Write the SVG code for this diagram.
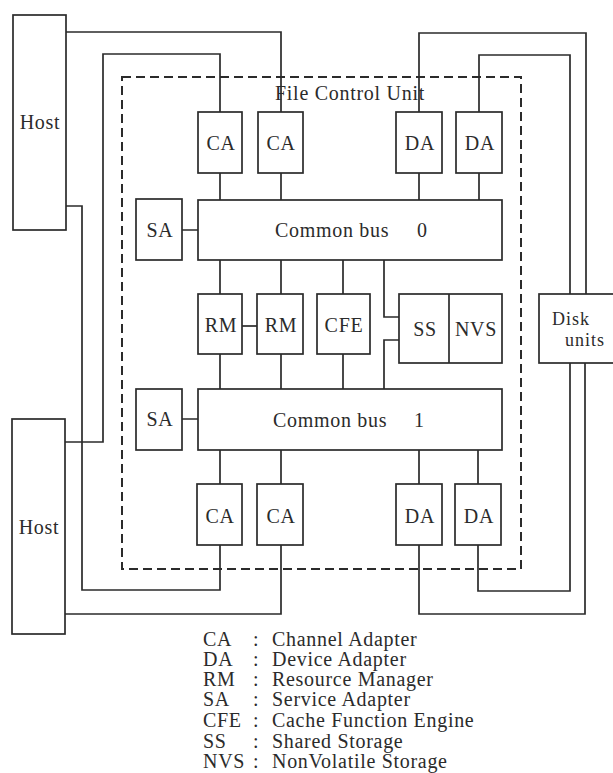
<svg xmlns="http://www.w3.org/2000/svg" width="613" height="773" viewBox="0 0 613 773">
<style>
  .box { fill: #ffffff; stroke: #2b2b2b; stroke-width: 1.7; }
  .ln { fill: none; stroke: #2b2b2b; stroke-width: 1.7; }
  .dash { fill: none; stroke: #2b2b2b; stroke-width: 2; stroke-dasharray: 9 5; }
  text { font-family: "Liberation Serif", "Times New Roman", serif; font-size: 20px; fill: #2b2b2b; letter-spacing: 0.7px; }
  .c { text-anchor: middle; }
  .sm { font-size: 18px; letter-spacing: 1px; }
</style>
<rect width="613" height="773" fill="#ffffff"/>

<g id="fcu">
  <rect class="dash" x="122" y="77" width="399" height="492"/>
  <text x="275" y="100" textLength="150" lengthAdjust="spacing">File Control Unit</text>
</g>

<g id="connectors">
  <path class="ln" d="M66,32 H281 V112"/>
  <path class="ln" d="M65,442 H103 V54 H220 V112"/>
  <path class="ln" d="M66,206 H82 V590 H220 V545"/>
  <path class="ln" d="M65,614 H281 V545"/>
  <path class="ln" d="M419,112 V33 H586 V294"/>
  <path class="ln" d="M479,112 V55 H570 V294"/>
  <path class="ln" d="M419,545 V614 H585 V363"/>
  <path class="ln" d="M478,545 V591 H570 V363"/>
  <path class="ln" d="M220,173 V200 M281,173 V200 M419,173 V200 M479,173 V200"/>
  <path class="ln" d="M182,230 H198 M182,419 H198"/>
  <path class="ln" d="M220,260 V294 M281,260 V294 M343,260 V294"/>
  <path class="ln" d="M220,354 V389 M281,354 V389 M343,354 V389"/>
  <path class="ln" d="M242,326 H257"/>
  <path class="ln" d="M384,260 V317 H399 M384,389 V340 H399"/>
  <path class="ln" d="M220,450 V484 M281,450 V484 M419,450 V484 M478,450 V484"/>
</g>

<g id="host1"><rect class="box" x="13" y="15" width="53" height="215"/><text class="c" x="40" y="129">Host</text></g>
<g id="host2"><rect class="box" x="12" y="419" width="53" height="215"/><text class="c" x="39" y="534">Host</text></g>

<g id="ca-top-1"><rect class="box" x="198" y="112" width="44" height="61"/><text class="c" x="221" y="150">CA</text></g>
<g id="ca-top-2"><rect class="box" x="258" y="112" width="45" height="61"/><text class="c" x="281" y="150">CA</text></g>
<g id="da-top-1"><rect class="box" x="396" y="112" width="46" height="61"/><text class="c" x="420" y="150">DA</text></g>
<g id="da-top-2"><rect class="box" x="456" y="112" width="46" height="61"/><text class="c" x="480" y="150">DA</text></g>

<g id="sa-0"><rect class="box" x="136" y="199" width="46" height="61"/><text class="c" x="160" y="237">SA</text></g>
<g id="bus-0"><rect class="box" x="198" y="200" width="304" height="60"/><text x="275" y="237">Common bus<tspan x="417">0</tspan></text></g>

<g id="rm-1"><rect class="box" x="198" y="294" width="44" height="60"/><text class="c" x="221" y="332">RM</text></g>
<g id="rm-2"><rect class="box" x="257" y="294" width="46" height="60"/><text class="c" x="281" y="332">RM</text></g>
<g id="cfe"><rect class="box" x="317" y="294" width="53" height="60"/><text class="c" x="344" y="332">CFE</text></g>
<g id="ss-nvs">
  <rect class="box" x="399" y="294" width="103" height="69"/>
  <path class="ln" d="M449,294 V363"/>
  <text class="c" x="425" y="336">SS</text>
  <text class="c" x="476" y="336">NVS</text>
</g>
<g id="disk"><rect class="box" x="539" y="294" width="85" height="69"/><text class="sm" x="552" y="325">Disk</text><text class="sm" x="565" y="346">units</text></g>

<g id="sa-1"><rect class="box" x="136" y="389" width="46" height="61"/><text class="c" x="160" y="426">SA</text></g>
<g id="bus-1"><rect class="box" x="198" y="389" width="304" height="61"/><text x="273" y="427">Common bus<tspan x="414">1</tspan></text></g>

<g id="ca-bot-1"><rect class="box" x="197" y="484" width="45" height="61"/><text class="c" x="220" y="523">CA</text></g>
<g id="ca-bot-2"><rect class="box" x="257" y="484" width="46" height="61"/><text class="c" x="281" y="523">CA</text></g>
<g id="da-bot-1"><rect class="box" x="396" y="484" width="46" height="61"/><text class="c" x="420" y="523">DA</text></g>
<g id="da-bot-2"><rect class="box" x="455" y="484" width="46" height="61"/><text class="c" x="479" y="523">DA</text></g>

<g id="legend">
  <text y="646"><tspan x="203">CA</tspan><tspan x="253">:</tspan><tspan x="272">Channel Adapter</tspan></text>
  <text y="666"><tspan x="203">DA</tspan><tspan x="253">:</tspan><tspan x="272">Device Adapter</tspan></text>
  <text y="686"><tspan x="203">RM</tspan><tspan x="253">:</tspan><tspan x="272">Resource Manager</tspan></text>
  <text y="706"><tspan x="203">SA</tspan><tspan x="253">:</tspan><tspan x="272">Service Adapter</tspan></text>
  <text y="727"><tspan x="203">CFE</tspan><tspan x="253">:</tspan><tspan x="272">Cache Function Engine</tspan></text>
  <text y="748"><tspan x="203">SS</tspan><tspan x="253">:</tspan><tspan x="272">Shared Storage</tspan></text>
  <text y="768"><tspan x="203">NVS</tspan><tspan x="253">:</tspan><tspan x="272">NonVolatile Storage</tspan></text>
</g>
</svg>
